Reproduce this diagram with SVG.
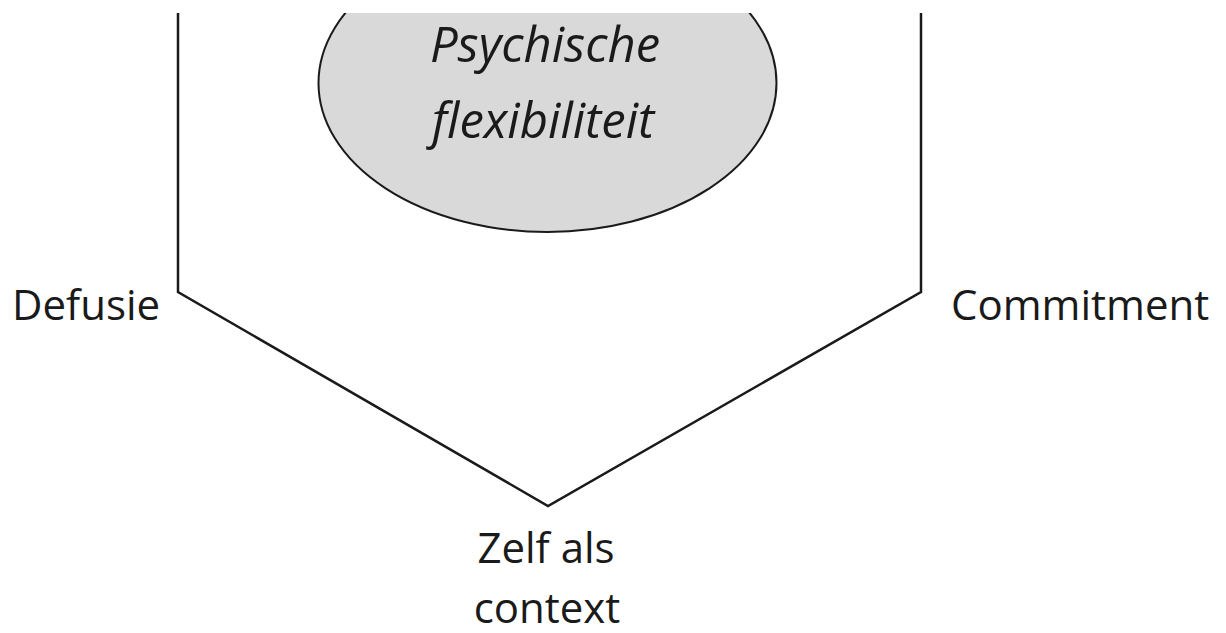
<svg xmlns="http://www.w3.org/2000/svg" width="1226" height="633" viewBox="0 0 1226 633">
<style>
.lbl{font-family:"Open Sans","Liberation Sans",sans-serif;font-size:42px;fill:#1a1a1a}
.it{font-style:italic;text-anchor:middle;font-size:49px}
.ln{fill:none;stroke:#1a1a1a;stroke-width:2.5}
</style>
<defs><clipPath id="c"><rect x="0" y="13" width="1226" height="620"/></clipPath></defs>
<rect width="1226" height="633" fill="#fff"/>
<g id="connectors" clip-path="url(#c)">
<polyline class="ln" points="178,0 178,292 548,506 921,292 921,0"/>
</g>
<g id="center" clip-path="url(#c)">
<ellipse cx="547.5" cy="83" rx="229" ry="149" fill="#d9d9d9" stroke="#1a1a1a" stroke-width="2"/>
<text class="lbl it" x="545" y="62">Psychische</text>
<text class="lbl it" x="543" y="138">flexibiliteit</text>
</g>
<g id="defusie"><text class="lbl" x="12" y="320">Defusie</text></g>
<g id="commitment"><text class="lbl" x="951" y="320">Commitment</text></g>
<g id="zelf"><text class="lbl" x="546" y="563" text-anchor="middle">Zelf als</text><text class="lbl" x="547" y="623" text-anchor="middle">context</text></g>
</svg>
